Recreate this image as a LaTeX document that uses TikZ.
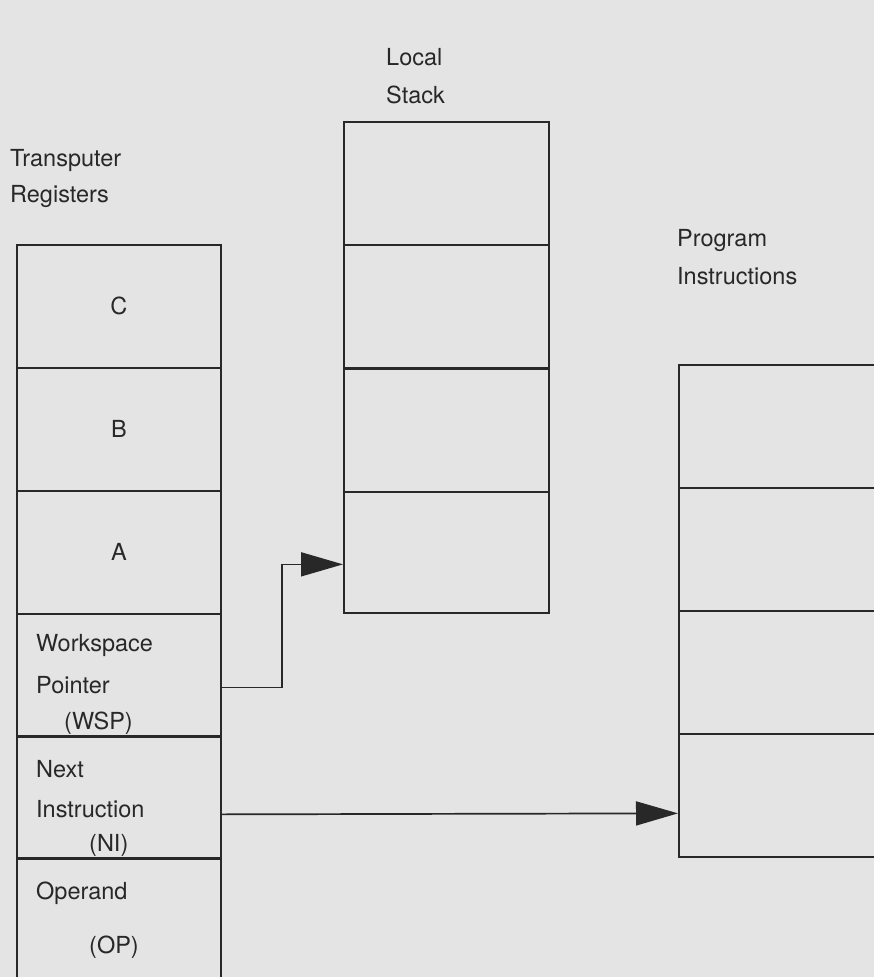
\documentclass[tikz,border=0pt]{standalone}
\usepackage{fontspec}
\setmainfont{TeX Gyre Heros}
\usetikzlibrary{arrows.meta}
\definecolor{paper}{RGB}{228,228,228}
\definecolor{ink}{RGB}{40,40,40}
\begin{document}
\begin{tikzpicture}[x=1pt,y=-1pt,
  every node/.style={font=\fontsize{23.5}{28}\selectfont, text=ink},
  cell/.style={draw=ink, line width=1.7pt, rectangle, inner sep=0pt, anchor=north west},
  regcell/.style={cell, minimum width=204pt, minimum height=123pt},
  stackcell/.style={cell, minimum width=205pt, minimum height=123pt},
  progcell/.style={cell, minimum width=240pt, minimum height=123pt},
  label/.style={anchor=west, inner sep=0pt},
  conn/.style={draw=ink, line width=1.7pt, -{Triangle[length=42pt,width=24pt]}}]
\useasboundingbox (0,0) rectangle (874,977);
\fill[paper] (0,0) rectangle (874,977);
\clip (0,0) rectangle (874,977);

% column headings
\node[label] (hreg1) at (10,160) {Transputer};
\node[label] (hreg2) at (10,196) {Registers};
\node[label] (hstk1) at (386,57) {Local};
\node[label] (hstk2) at (386,95) {Stack};
\node[label] (hprg1) at (677,240) {Program};
\node[label] (hprg2) at (677,276) {Instructions};

% transputer registers
\node[regcell] (rc)  at (16,244) {C};
\node[regcell] (rb)  at (16,367) {B};
\node[regcell] (ra)  at (16,490) {A};
\node[regcell] (wsp) at (16,613) {};
\node[regcell] (ni)  at (16,735) {};
\node[regcell, minimum height=160pt] (op) at (16,857) {};
\node[label] (wsp1) at (36,645) {Workspace};
\node[label] (wsp2) at (36,685) {Pointer};
\node[label] (wsp3) at (64,723) {(WSP)};
\node[label] (ni1)  at (36,769) {Next};
\node[label] (ni2)  at (36,809) {Instruction};
\node[label] (ni3)  at (89,845) {(NI)};
\node[label] (op1)  at (36,893) {Operand};
\node[label] (op2)  at (89,947) {(OP)};

% local stack
\node[stackcell] (s1) at (343,121) {};
\node[stackcell] (s2) at (343,244) {};
\node[stackcell] (s3) at (343,368) {};
\node[stackcell, minimum height=121pt] (s4) at (343,491) {};

% program instructions
\node[progcell] (p1) at (678,364) {};
\node[progcell] (p2) at (678,487) {};
\node[progcell] (p3) at (678,610) {};
\node[progcell] (p4) at (678,733) {};

% pointers
\draw[conn] ([yshift=-12pt]wsp.east) -- ++(60,0) |- ([yshift=-12pt]s4.west);
\draw[conn] ([yshift=-17pt]ni.east) -- ([yshift=-18pt]p4.west);
\end{tikzpicture}
\end{document}
